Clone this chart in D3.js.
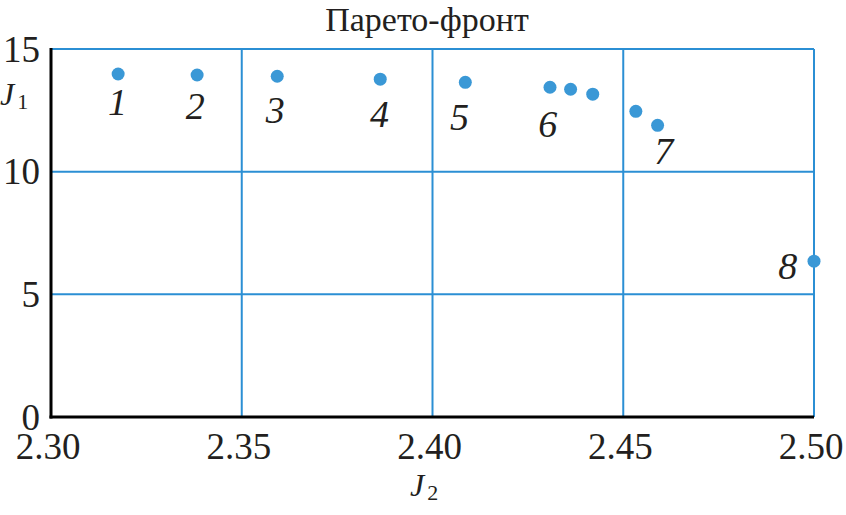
<!DOCTYPE html>
<html>
<head>
<meta charset="utf-8">
<script src="https://cdn.jsdelivr.net/npm/d3@7"></script>
<style>
  body { margin: 0; background: #fff; }
  svg text { font-family: "Liberation Serif", "Times New Roman", serif; fill: #231f20; }
</style>
</head>
<body>
<div id="chart"></div>
<script>
// Chart data
var title = "Парето-фронт";
var xTicks = [2.30, 2.35, 2.40, 2.45, 2.50];
var yTicks = [0, 5, 10, 15];
var pointJ2 = [2.3176, 2.3383, 2.3593, 2.3863, 2.4086, 2.4308, 2.4362, 2.4420, 2.4533, 2.4590, 2.5000];
var pointJ1 = [13.98, 13.94, 13.89, 13.77, 13.64, 13.44, 13.36, 13.16, 12.46, 11.89, 6.35];
var labelText = ["1", "2", "3", "4", "5", "6", "7", "8"];
var labelJ2 = [2.3174, 2.3378, 2.3588, 2.3861, 2.4071, 2.4302, 2.4606, 2.4931];
var labelJ1 = [12.29, 12.13, 12.00, 11.84, 11.68, 11.43, 10.33, 5.61];

var width = 846, height = 515;
var margin = {top: 49, right: 32, bottom: 98, left: 51};
var w = width - margin.left - margin.right,
    h = height - margin.top - margin.bottom;

var svg = d3.select("#chart").append("svg")
    .attr("width", width)
    .attr("height", height);

var x = d3.scaleLinear().domain([2.30, 2.50]).range([0, w]);
var y = d3.scaleLinear().domain([0, 15]).range([h, 0]);

var blue = "#2b8fd4";
var g = svg.append("g")
    .attr("transform", "translate(" + margin.left + "," + margin.top + ")");

// grid lines
g.append("g").selectAll("line")
    .data(xTicks.slice(1))
  .enter().append("line")
    .attr("x1", function(d) { return x(d); })
    .attr("x2", function(d) { return x(d); })
    .attr("y1", 0).attr("y2", h)
    .attr("stroke", blue).attr("stroke-width", 2);

g.append("g").selectAll("line")
    .data(yTicks.slice(1))
  .enter().append("line")
    .attr("x1", 0).attr("x2", w)
    .attr("y1", function(d) { return y(d); })
    .attr("y2", function(d) { return y(d); })
    .attr("stroke", blue).attr("stroke-width", 2);

// black axes
g.append("line")
    .attr("x1", 0).attr("x2", 0)
    .attr("y1", y(15) - 1).attr("y2", y(0) + 1.5)
    .attr("stroke", "#000").attr("stroke-width", 3);
g.append("line")
    .attr("x1", -1.5).attr("x2", x(2.50))
    .attr("y1", y(0)).attr("y2", y(0))
    .attr("stroke", "#000").attr("stroke-width", 3);

// tick labels
g.append("g").selectAll("text")
    .data(yTicks)
  .enter().append("text")
    .attr("x", -11)
    .attr("y", function(d) { return y(d); })
    .attr("dy", "0.34em")
    .attr("text-anchor", "end")
    .attr("font-size", 37)
    .text(function(d) { return d; });

g.append("g").selectAll("text")
    .data(xTicks)
  .enter().append("text")
    .attr("x", function(d) { return x(d) - 3; })
    .attr("y", h + 42)
    .attr("text-anchor", "middle")
    .attr("font-size", 37)
    .text(function(d) { return d.toFixed(2); });

// axis titles
var j1 = svg.append("text")
    .attr("x", 0).attr("y", 105)
    .attr("font-size", 32);
j1.append("tspan").attr("font-style", "italic").text("J");
j1.append("tspan").attr("font-size", 22).attr("dx", 3).attr("dy", 4).text("1");

var j2 = svg.append("text")
    .attr("x", 410).attr("y", 496)
    .attr("font-size", 32);
j2.append("tspan").attr("font-style", "italic").text("J");
j2.append("tspan").attr("font-size", 22).attr("dx", 3).attr("dy", 4).text("2");

// title
svg.append("text")
    .attr("x", 427).attr("y", 31)
    .attr("text-anchor", "middle")
    .attr("font-size", 34)
    .text(title);

// points
g.append("g").selectAll("circle")
    .data(pointJ2)
  .enter().append("circle")
    .attr("cx", function(d) { return x(d); })
    .attr("cy", function(d, i) { return y(pointJ1[i]); })
    .attr("r", 6.5)
    .attr("fill", "#3a98d6");

// point labels
g.append("g").selectAll("text")
    .data(labelText)
  .enter().append("text")
    .attr("x", function(d, i) { return x(labelJ2[i]); })
    .attr("y", function(d, i) { return y(labelJ1[i]); })
    .attr("text-anchor", "middle")
    .attr("font-style", "italic")
    .attr("font-size", 38)
    .text(function(d) { return d; });
</script>
</body>
</html>
